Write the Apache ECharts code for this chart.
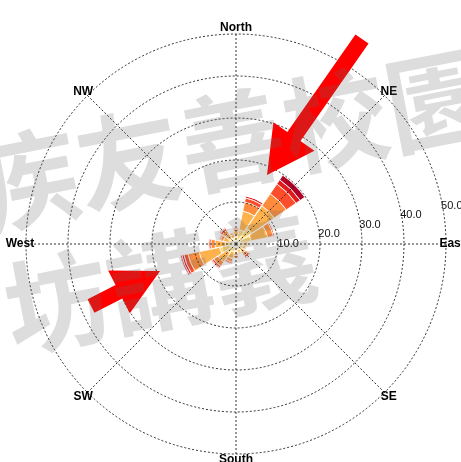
<!DOCTYPE html>
<html><head><meta charset="utf-8">
<script src="https://cdn.jsdelivr.net/npm/echarts@6/dist/echarts.min.js"></script>
<style>html,body{margin:0;padding:0;background:#fff}#c{width:461px;height:462px}</style>
</head><body><div id="c"></div>
<script>
// ---- data ----
const directions = ['N','NNE','NE','ENE','E','ESE','SE','SSE','S','SSW','SW','WSW','W','WNW','NW','NNW'];
const speedBins = ['0-1','1-2','2-3','3-4','4-5','5-6','>6'];
const bin0 = [0.8,1.0,1.5,1.2,1.0,0.9,0.8,0.7,0.8,0.8,1.0,1.5,1.0,0.8,0.8,0.7];
const bin1 = [1.0,2.5,3.0,2.5,1.0,0.9,1.0,0.8,1.0,1.2,1.6,2.5,1.5,1.0,1.0,0.8];
const bin2 = [1.2,4.5,6.5,4.0,0.8,0.6,1.0,0.6,1.0,1.6,2.6,5.0,2.5,1.3,1.3,0.8];
const bin3 = [0.6,2.2,3.5,1.4,0.3,0.3,0.6,0.3,0.5,0.8,1.2,2.7,1.0,0.7,0.8,0.4];
const bin4 = [0.3,1.0,2.8,0.4,0.1,0.1,0.5,0.2,0.2,0.4,0.5,1.0,0.5,0.3,0.6,0.2];
const bin5 = [0.1,0.5,1.2,0.0,0.0,0.0,0.2,0.0,0.1,0.2,0.2,0.5,0.2,0.2,0.2,0.1];
const bin6 = [0.0,0.0,1.3,0.0,0.0,0.0,0.1,0.0,0.0,0.0,0.1,0.3,0.0,0.0,0.1,0.0];
const ringTicks = [10,20,30,40,50];
const ringLabels = ['10.0','20.0','30.0','40.0','50.0'];
const compassAngles = [0,45,90,135,180,225,270,315];
const compassLabels = ['North','NE','East','SE','South','SW','West','NW'];
const watermarkLine1 = '疾友善校園';
const watermarkLine2 = '坊講義';

// ---- styles ----
const binColors = ['#ffffb2','#fed976','#feb24c','#fd8d3c','#fc4e2a','#e31a1c','#b10026'];
const bins = [bin0,bin1,bin2,bin3,bin4,bin5,bin6];
const CX = 236, CY = 244, R = 210, RMAX = 50;
const gridLine = {show:true, lineStyle:{color:'#1a1a1a', width:0.9, type:[2,2]}};

function arrowPoints(tail, tip, sw, hw, hl) {
  const dx = tip[0]-tail[0], dy = tip[1]-tail[1];
  const L = Math.hypot(dx, dy), ux = dx/L, uy = dy/L, px = -uy, py = ux;
  const b = [tip[0]-ux*hl, tip[1]-uy*hl];
  return [
    [tail[0]+px*sw/2, tail[1]+py*sw/2],
    [b[0]+px*sw/2, b[1]+py*sw/2],
    [b[0]+px*hw/2, b[1]+py*hw/2],
    tip,
    [b[0]-px*hw/2, b[1]-py*hw/2],
    [b[0]-px*sw/2, b[1]-py*sw/2],
    [tail[0]-px*sw/2, tail[1]-py*sw/2]
  ];
}

const series = bins.map((d, i) => ({
  name: speedBins[i], type: 'bar', coordinateSystem: 'polar', polarIndex: 0,
  stack: 'ws', data: d, barCategoryGap: '4%',
  itemStyle: {color: binColors[i], borderColor: '#fff', borderWidth: 0.8},
  silent: true, z: 2
}));

series.push({
  type: 'scatter', coordinateSystem: 'polar', polarIndex: 1, clip: false,
  symbolSize: 1, itemStyle: {color: 'rgba(0,0,0,0)'},
  data: ringTicks.map((r, i) => ({value: [r, 77], name: ringLabels[i]})),
  label: {show: true, position: [0, 0], offset: [1, 15], align: 'left', verticalAlign: 'bottom', opacity: 1,
    formatter: p => p.name, fontFamily: 'Liberation Sans', fontSize: 11, color: '#111'},
  z: 6
});
series.push({
  type: 'scatter', coordinateSystem: 'polar', polarIndex: 1, clip: false,
  symbolSize: 1, itemStyle: {color: 'rgba(0,0,0,0)'},
  data: compassAngles.map((a, i) => ({value: [51.45, a], name: compassLabels[i]})),
  label: {show: true, position: 'inside', align: 'center', verticalAlign: 'middle', opacity: 1,
    formatter: p => p.name, fontFamily: 'Liberation Sans', fontWeight: 'bold', fontSize: 12, color: '#000'},
  z: 6
});

const option = {
  backgroundColor: '#fff',
  animation: false,
  polar: [
    {center: [CX, CY], radius: R},
    {center: [CX, CY], radius: R}
  ],
  angleAxis: [
    {polarIndex: 0, type: 'category', data: directions, startAngle: 90 + 180/16, clockwise: true,
      axisLine: {show: false}, axisTick: {show: false}, axisLabel: {show: false}, splitLine: {show: false}},
    {polarIndex: 1, type: 'value', min: 0, max: 360, interval: 45, startAngle: 90, clockwise: true, z: 3,
      axisLine: {show: false}, axisTick: {show: false}, axisLabel: {show: false}, splitLine: gridLine}
  ],
  radiusAxis: [
    {polarIndex: 0, type: 'value', min: 0, max: RMAX,
      axisLine: {show: false}, axisTick: {show: false}, axisLabel: {show: false}, splitLine: {show: false}},
    {polarIndex: 1, type: 'value', min: 0, max: RMAX, interval: 10, z: 3,
      axisLine: {show: false}, axisTick: {show: false}, axisLabel: {show: false}, splitLine: gridLine}
  ],
  series: series,
  graphic: [
    {type: 'polygon', z: 50, silent: true, shape: {points: arrowPoints([362,39],[267,175],16,50,47)}, style: {fill: '#ff0000'}},
    {type: 'polygon', z: 50, silent: true, shape: {points: arrowPoints([91,306],[160,271],15,48,46)}, style: {fill: '#ff0000'}},
    {type: 'text', z: 100, silent: true, x: 232, y: 140, rotation: 11*Math.PI/180,
      style: {text: watermarkLine1, fontSize: 105, fontFamily: 'Noto Sans CJK TC', fontWeight: 'bold', fill: 'rgba(100,100,100,0.22)', align: 'center', verticalAlign: 'middle'}},
    {type: 'text', z: 100, silent: true, x: 160, y: 282, rotation: 11*Math.PI/180,
      style: {text: watermarkLine2, fontSize: 105, fontFamily: 'Noto Sans CJK TC', fontWeight: 'bold', fill: 'rgba(100,100,100,0.22)', align: 'center', verticalAlign: 'middle'}}
  ]
};
const chart = echarts.init(document.getElementById('c'), null, {renderer: 'canvas'});
chart.setOption(option);
</script></body></html>
